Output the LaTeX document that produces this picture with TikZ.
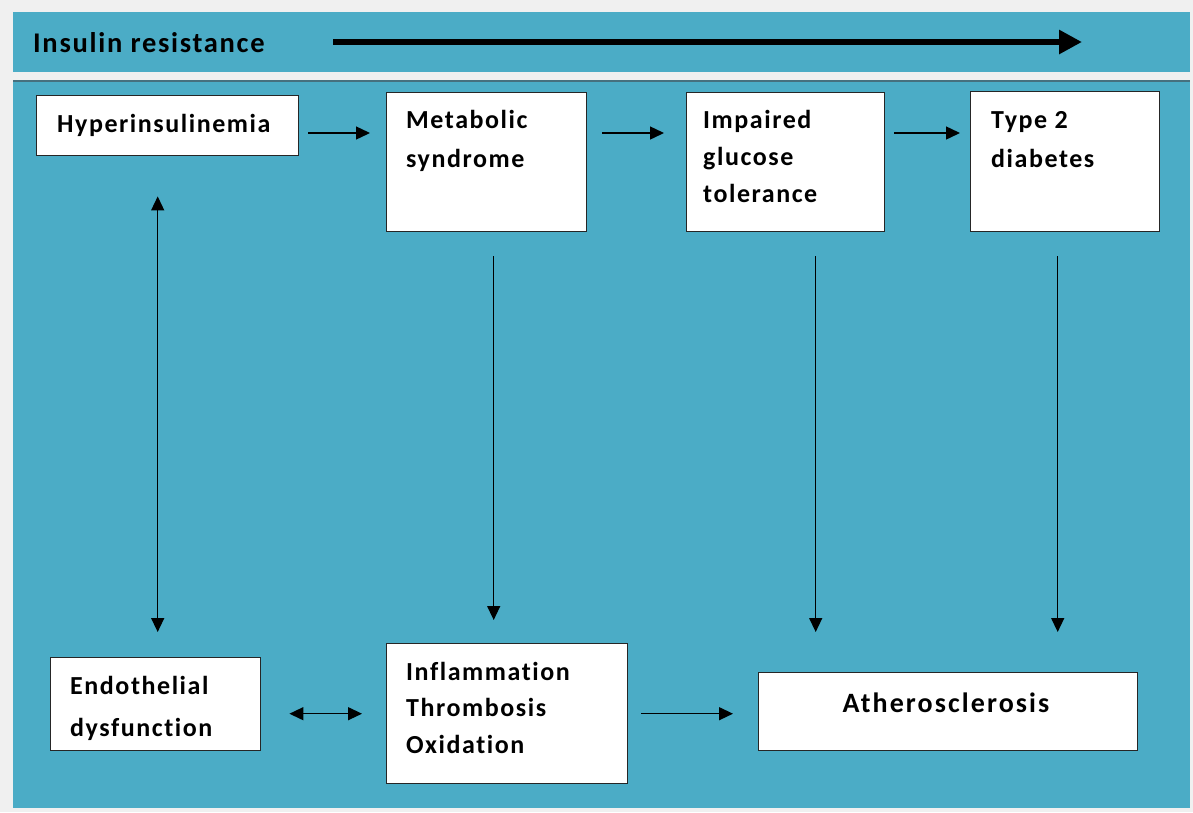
\documentclass[tikz,border=0pt]{standalone}
\usepackage{fontspec}
\setmainfont{Carlito}[LetterSpace=6,Ligatures={NoCommon,NoRequired,NoContextual}]
\usetikzlibrary{arrows.meta,calc}
\definecolor{panelblue}{HTML}{4BACC6}
\definecolor{pagegray}{HTML}{F0F0F0}
\definecolor{shadowline}{HTML}{46707E}
\definecolor{boxline}{HTML}{262626}
\newcommand{\lines}[2]{{\fontsize{26}{#1}\selectfont\bfseries\begin{tabular}[t]{@{}l@{}}#2\end{tabular}}}
\begin{document}
\begin{tikzpicture}[x=1pt,y=-1pt,
  box/.style={draw=boxline,line width=1.4pt,fill=white,anchor=north west,inner sep=0pt},
  txt/.style={anchor=base west,inner sep=0pt,font=\fontsize{26}{31}\selectfont\bfseries},
  conn/.style={line width=1.4pt,-{Triangle[length=14pt,width=13pt]}},
  dconn/.style={line width=1.4pt,{Triangle[length=14pt,width=13pt]}-{Triangle[length=14pt,width=13pt]}}]
\fill[pagegray] (0,0) rectangle (1193,812);
\useasboundingbox (0,0) rectangle (1193,812);
% panels
\fill[panelblue] (13,12) rectangle (1190,72);
\fill[panelblue] (13,80) rectangle (1190,808);
\draw[shadowline,line width=2.5pt] (13,81) -- (1190,81);
% insulin resistance
\node[txt,font=\fontsize{28.5}{32}\selectfont\bfseries] (ir) at (33,52) {Insulin resistance};
\coordinate (irA) at (333,42);
\coordinate (irB) at (1082,42);
\draw[line width=6.5pt,-{Triangle[length=23pt,width=23pt]}] (irA) -- (irB);
% boxes
\node[box,minimum width=262pt,minimum height=60pt] (hyper) at (36,95) {};
\node[box,minimum width=200pt,minimum height=139pt] (meta) at (386,92) {};
\node[box,minimum width=198pt,minimum height=139pt] (igt) at (686,92) {};
\node[box,minimum width=189pt,minimum height=140pt] (t2d) at (970,91) {};
\node[box,minimum width=210pt,minimum height=93pt] (endo) at (50,657) {};
\node[box,minimum width=241pt,minimum height=140pt] (infl) at (386,643) {};
\node[box,minimum width=379pt,minimum height=78pt] (ath) at (758,672) {};
% texts
\node[txt] (hyperT) at (57,132) {Hyperinsulinemia};
\node[txt] (metaT) at (406,128) {\lines{39}{Metabolic\\syndrome}};
\node[txt] (igtT) at (703,128) {\lines{37}{Impaired\\glucose\\tolerance}};
\node[txt] (t2dT) at (991,128) {\lines{39}{Type 2\\diabetes}};
\node[txt] (endoT) at (70,694) {\lines{42}{Endothelial\\dysfunction}};
\node[txt] (inflT) at (406,680) {\lines{36.5}{Inflammation\\Thrombosis\\Oxidation}};
\node[txt,anchor=base,font=\fontsize{28}{31}\selectfont\bfseries\addfontfeature{LetterSpace=7.5}] (athT) at (946,712) {Atherosclerosis};
% connectors
\coordinate (row) at (0,133);
\draw[conn] ([xshift=9pt]hyper.east |- row) -- ([xshift=-16pt]meta.west |- row);
\draw[conn] ([xshift=15pt]meta.east |- row) -- ([xshift=-22pt]igt.west |- row);
\draw[conn] ([xshift=9pt]igt.east |- row) -- ([xshift=-10pt]t2d.west |- row);
\draw[dconn,shorten <=40pt,shorten >=25pt] ([xshift=2pt]hyper.south -| endo.north) -- ([xshift=2pt]endo.north);
\draw[conn,shorten <=24pt,shorten >=23pt] ([xshift=7pt]meta.south) -- ([xshift=7pt]meta.south |- infl.north);
\draw[conn,shorten <=24pt,shorten >=40pt] ([xshift=30pt]igt.south) -- ([xshift=30pt]igt.south |- ath.north);
\draw[conn,shorten <=24pt,shorten >=40pt] ([xshift=-7.5pt]t2d.south) -- ([xshift=-7.5pt]t2d.south |- ath.north);
\draw[dconn,shorten <=28pt,shorten >=24pt] (endo.east |- infl.west) -- (infl.west);
\draw[conn,shorten <=13pt,shorten >=25pt] (infl.east) -- (infl.east -| ath.west);
\end{tikzpicture}
\end{document}
